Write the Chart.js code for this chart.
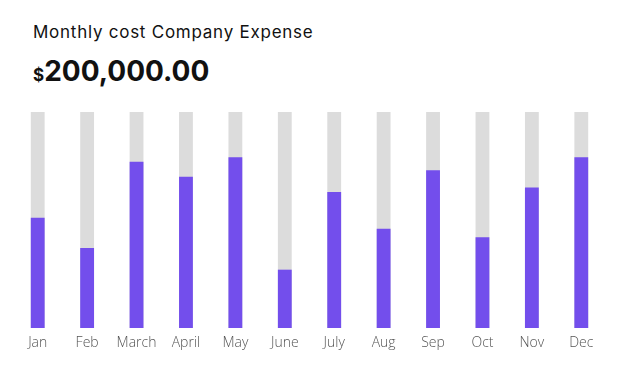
<!DOCTYPE html>
<html>
<head>
<meta charset="utf-8">
<script src="https://cdn.jsdelivr.net/npm/chart.js@4"></script>
<style>
  html, body { margin: 0; padding: 0; background: #fff; }
  body { width: 622px; height: 372px; position: relative; overflow: hidden; font-family: 'Inter', 'Noto Sans', sans-serif; }
  .title { position: absolute; left: 33px; top: 22px; font-size: 17px; color: #111; letter-spacing: 0.75px; }
  .amount { position: absolute; left: 33px; top: 54px; font-size: 28px; font-weight: 700; color: #111; }
  .amount span { font-size: 17px; }
  #wrap { position: absolute; left: 0; top: 0; width: 622px; height: 372px; }
</style>
</head>
<body>
<div class="title">Monthly cost Company Expense</div>
<div class="amount"><span>$</span>200,000.00</div>
<div id="wrap"><canvas id="chart"></canvas></div>
<script>
const months = ['Jan', 'Feb', 'March', 'April', 'May', 'June', 'July', 'Aug', 'Sep', 'Oct', 'Nov', 'Dec'];
const spent = [51, 37, 77, 70, 79, 27, 63, 46, 73, 42, 65, 79];
const track = [100, 100, 100, 100, 100, 100, 100, 100, 100, 100, 100, 100];

const ctx = document.getElementById('chart').getContext('2d');
new Chart(ctx, {
  type: 'bar',
  data: {
    labels: months,
    datasets: [
      {
        label: 'Expense',
        data: spent,
        backgroundColor: '#734eec',
        barPercentage: 0.28,
        categoryPercentage: 1,
        order: 1,
      },
      {
        label: 'Track',
        data: track,
        backgroundColor: '#dcdcdc',
        barPercentage: 0.28,
        categoryPercentage: 1,
        order: 2,
      },
    ],
  },
  options: {
    responsive: true,
    maintainAspectRatio: false,
    animation: false,
    layout: { padding: { left: 13, right: 16, top: 112, bottom: 22 } },
    plugins: { legend: { display: false }, tooltip: { enabled: false } },
    datasets: { bar: { grouped: false } },
    scales: {
      y: { display: false, min: 0, max: 100 },
      x: {
        grid: { display: false },
        border: { display: false },
        ticks: {
          color: '#555',
          padding: 0,
          font: { family: 'Open Sans', size: 14, weight: 300, lineHeight: 1 },
        },
      },
    },
  },
});
</script>
</body>
</html>
